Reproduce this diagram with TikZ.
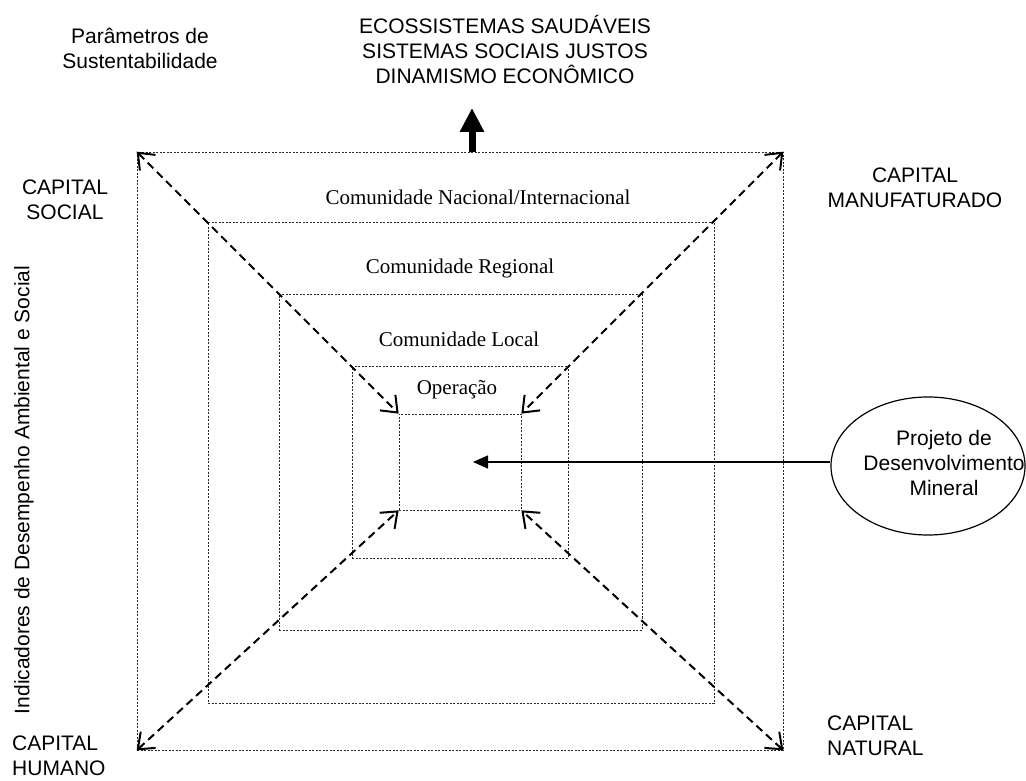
\documentclass[tikz,border=0pt]{standalone}
\usepackage{fontspec}
\setmainfont{Liberation Serif}
\setsansfont{Liberation Sans}
\usetikzlibrary{arrows.meta,shapes.geometric}

\begin{document}
\begin{tikzpicture}[x=1pt,y=1pt,
    camada/.style ={rectangle, draw=black!85, line width=0.7pt, dash pattern=on 2pt off 1.5pt, inner sep=0pt},
    rotulo/.style ={font=\sffamily\fontsize{21}{25}\selectfont, align=center, inner sep=0pt},
    nivel/.style ={font=\fontsize{21}{25}\selectfont, inner sep=0pt},
    fluxo/.style ={line width=2pt, dash pattern=on 8pt off 5pt, {Straight Barb[length=14pt,width=22pt,line width=2pt]}-{Straight Barb[length=14pt,width=22pt,line width=2pt]}},
    seta/.style ={line width=1.5pt, -{Triangle[length=15pt,width=13pt]}},
    avanco/.style ={line width=7pt, -{Triangle[length=24pt,width=23pt]}}]
   \useasboundingbox (0,0) rectangle (1026,780);
   % camadas da comunidade
   \node[camada, minimum width=646, minimum height=598] (mundo)    at (460,329)   {};
   \node[camada, minimum width=506, minimum height=481] (nacional) at (461,317.5) {};
   \node[camada, minimum width=363, minimum height=336] (regional) at (460.5,318) {};
   \node[camada, minimum width=216, minimum height=192] (local)    at (460,318)   {};
   \node[camada, minimum width=122, minimum height=96]  (operacao) at (460,318)   {};
   \node[nivel] (nNacional) at (478,583) {Comunidade Nacional/Internacional};
   \node[nivel] (nRegional) at (460,512) {Comunidade Regional};
   \node[nivel] (nLocal)    at (459,441) {Comunidade Local};
   \node[nivel] (nOperacao) at (457,390) {Operação};
   % textos externos
   \node[rotulo] (parametros) at (140,732) {Parâmetros de\\Sustentabilidade};
   \node[rotulo] (metas)      at (505,730) {ECOSSISTEMAS SAUDÁVEIS\\SISTEMAS SOCIAIS JUSTOS\\DINAMISMO ECONÔMICO};
   \node[rotulo] (social)     at (65,580)  {CAPITAL\\SOCIAL};
   \node[rotulo] (manuf)      at (915,592) {CAPITAL\\MANUFATURADO};
   \node[rotulo, align=left, anchor=west] (humano)  at (12,24)  {CAPITAL\\HUMANO};
   \node[rotulo, align=left, anchor=west] (natural) at (827,44) {CAPITAL\\NATURAL};
   \node[rotulo, rotate=90] (indicadores) at (24,290) {Indicadores de Desempenho Ambiental e Social};
   % projeto
   \node[ellipse, draw, line width=1.2pt, minimum width=194, minimum height=138, inner sep=0pt] (projeto) at (928,314) {};
   \node[rotulo] (tProjeto) at (944,317) {Projeto de\\Desenvolvimento\\Mineral};
   \coordinate (topo) at (472,672);
   % setas
   \draw[fluxo] (mundo.north west) -- (operacao.north west);
   \draw[fluxo] (mundo.north east) -- (operacao.north east);
   \draw[fluxo] (mundo.south west) -- (operacao.south west);
   \draw[fluxo] (mundo.south east) -- (operacao.south east);
   \draw[seta] (projeto.west |- operacao.center) -- ([xshift=13]operacao.center);
   \draw[avanco] ([xshift=12]mundo.north) -- (topo);
\end{tikzpicture}
\end{document}
